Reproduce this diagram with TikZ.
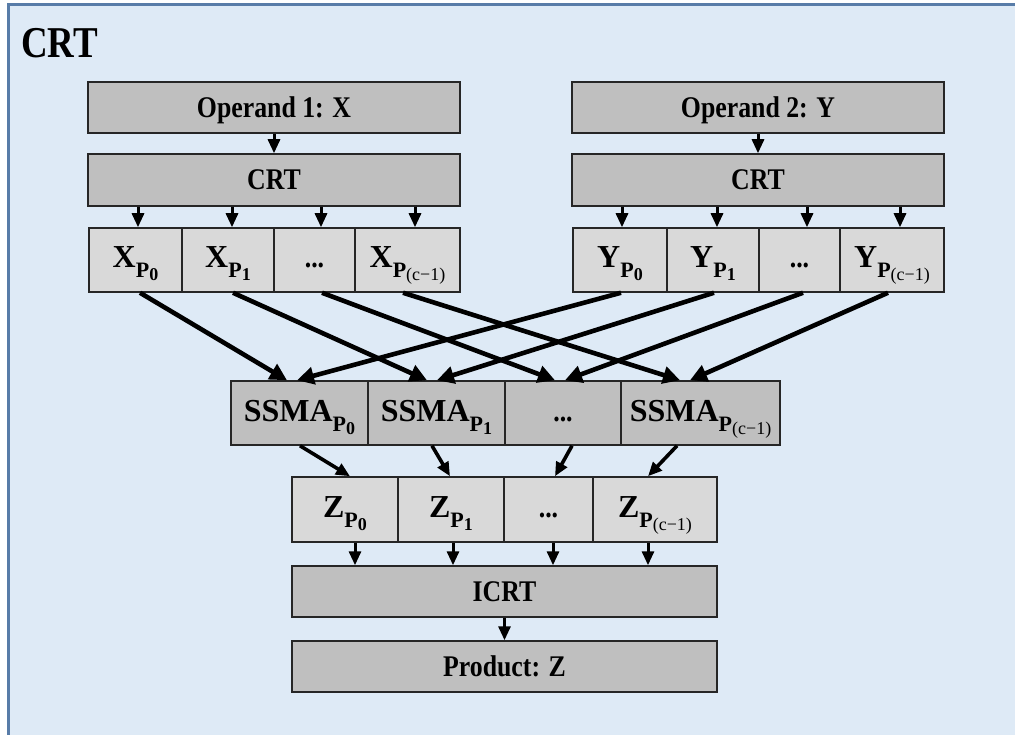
\documentclass[tikz,border=0pt]{standalone}
\usepackage{fontspec}
\setmainfont{Liberation Serif}
\usetikzlibrary{arrows.meta,calc}
\definecolor{bgblue}{RGB}{222,234,246}
\definecolor{frameblue}{RGB}{88,124,168}
\definecolor{darkbox}{RGB}{191,191,191}
\definecolor{lightbox}{RGB}{217,217,217}
\definecolor{edgecol}{RGB}{38,38,38}
\newcommand{\sqz}[1]{\scalebox{0.86}[1]{#1}}
\newcommand{\dotsq}{{\fontsize{30}{30}\selectfont\sqz{...}}}
\newcommand{\plbl}[2]{{\fontsize{32}{32}\selectfont #1}\raisebox{-10pt}{\fontsize{22}{22}\selectfont P\raisebox{-3pt}{\fontsize{18}{18}\selectfont #2}}}
\begin{document}
\begin{tikzpicture}[x=1pt,y=-1pt,
  box/.style={draw=edgecol, line width=1.5pt, inner sep=0pt, font=\bfseries\fontsize{30}{30}\selectfont},
  dark/.style={box, fill=darkbox},
  light/.style={box, fill=lightbox},
  wtext/.style={text height=20pt, text depth=0pt},
  ctext/.style={text height=22pt, text depth=6pt},
  wide/.style={wtext, minimum width=372pt, minimum height=51pt},
  rowcell/.style={ctext, minimum height=64pt},
  sarrow/.style={line width=3pt, -{Triangle[length=14pt,width=12pt]}},
  farrow/.style={line width=4.6pt, -{Triangle[length=17pt,width=17pt]}}]
\clip (0,0) rectangle (1015,735);
\useasboundingbox (0,0) rectangle (1015,735);
\fill[white] (0,0) rectangle (1015,735);
\draw[frameblue, line width=3pt, fill=bgblue] (8,5) rectangle (1040,760);

\node[anchor=base west, inner sep=0pt, font=\bfseries\fontsize{44}{44}\selectfont] (title) at (21,58) {\scalebox{0.84}[1]{CRT}};

% left operand
\node[dark, wide] (op1) at (274,107.5) {\sqz{Operand 1: X}};
\node[dark, wide, minimum height=52pt] (crt1) at (274,180) {\sqz{CRT}};
\node[light, rowcell, minimum width=93pt] (x0) at (135.5,260) {\plbl{X}{0}};
\node[light, rowcell, minimum width=92pt] (x1) at (228,260) {\plbl{X}{1}};
\node[light, rowcell, minimum width=81pt] (x2) at (314.5,260) {\dotsq};
\node[light, rowcell, minimum width=105pt] (x3) at (407.5,260) {\plbl{X}{\mdseries(c−1)}};

% right operand
\node[dark, wide] (op2) at (758,107.5) {\sqz{Operand 2: Y}};
\node[dark, wide, minimum height=52pt] (crt2) at (758,180) {\sqz{CRT}};
\node[light, rowcell, minimum width=94pt] (y0) at (620,260) {\plbl{Y}{0}};
\node[light, rowcell, minimum width=92pt] (y1) at (713,260) {\plbl{Y}{1}};
\node[light, rowcell, minimum width=81pt] (y2) at (799.5,260) {\dotsq};
\node[light, rowcell, minimum width=104pt] (y3) at (892,260) {\plbl{Y}{\mdseries(c−1)}};

% SSMA row
\node[dark, rowcell, minimum width=137pt] (s0) at (299.5,413) {\plbl{SSMA}{0}};
\node[dark, rowcell, minimum width=137pt] (s1) at (436.5,413) {\plbl{SSMA}{1}};
\node[dark, rowcell, minimum width=116pt] (s2) at (563,413) {\dotsq};
\node[dark, rowcell, minimum width=159pt] (s3) at (700.5,413) {\plbl{SSMA}{\mdseries(c−1)}};

% Z row
\node[light, ctext, minimum height=65pt, minimum width=106pt] (z0) at (345,509.5) {\plbl{Z}{0}};
\node[light, ctext, minimum height=65pt, minimum width=106pt] (z1) at (451,509.5) {\plbl{Z}{1}};
\node[light, ctext, minimum height=65pt, minimum width=89pt] (z2) at (548.5,509.5) {\dotsq};
\node[light, ctext, minimum height=65pt, minimum width=124pt] (z3) at (655,509.5) {\plbl{Z}{\mdseries(c−1)}};

\node[dark, wtext, minimum width=425pt, minimum height=51pt] (icrt) at (504.5,591.5) {\sqz{ICRT}};
\node[dark, wtext, minimum width=425pt, minimum height=51pt] (prod) at (504.5,666.5) {\sqz{Product: Z}};

% short arrows
\draw[sarrow] (op1) -- (crt1);
\draw[sarrow] (op2) -- (crt2);
\foreach \c/\d in {x0/2.5,x1/4,x2/6.5,x3/7.5} {
  \draw[sarrow] ($(\c.north |- crt1.south)+(\d,0)$) -- ($(\c.north)+(\d,0)$);
}
\foreach \c/\d in {y0/2,y1/4,y2/7.5,y3/8} {
  \draw[sarrow] ($(\c.north |- crt2.south)+(\d,0)$) -- ($(\c.north)+(\d,0)$);
}

% fan lines
\draw[farrow] ($(x0.south)+(4.5,0)$) -- ($(s0.north)+(-12.5,0)$);
\draw[farrow] ($(x1.south)+(5,0)$) -- ($(s1.north)+(-9.5,0)$);
\draw[farrow] ($(x2.south)+(7.5,0)$) -- ($(s2.north)+(-8,0)$);
\draw[farrow] ($(x3.south)+(-4.5,0)$) -- ($(s3.north)+(-20.5,0)$);
\draw[farrow] ($(y0.south)+(1,0)$) -- ($(s0.north)+(-2.5,0)$);
\draw[farrow] ($(y1.south)+(1,0)$) -- ($(s1.north)+(0.5,0)$);
\draw[farrow] ($(y2.south)+(3.5,0)$) -- ($(s2.north)+(2,0)$);
\draw[farrow] ($(y3.south)+(-4,0)$) -- ($(s3.north)+(-10.5,0)$);

% SSMA -> Z
\draw[sarrow, line width=3.6pt] ($(s0.south)+(0.5,0)$) -- ($(z0.north)+(5,0)$);
\draw[sarrow, line width=3.6pt] ($(s1.south)+(-4.5,0)$) -- ($(z1.north)+(-1,0)$);
\draw[sarrow, line width=3.6pt] ($(s2.south)+(9,0)$) -- ($(z2.north)+(6.5,0)$);
\draw[sarrow, line width=3.6pt] ($(s3.south)+(-23.5,0)$) -- ($(z3.north)+(-7,0)$);

% Z -> ICRT
\foreach \c/\d in {z0/10,z1/2,z2/4.5,z3/-7} {
  \draw[sarrow] ($(\c.south)+(\d,0)$) -- ($(\c.south |- icrt.north)+(\d,0)$);
}
\draw[sarrow] (icrt) -- (prod);
\end{tikzpicture}
\end{document}
